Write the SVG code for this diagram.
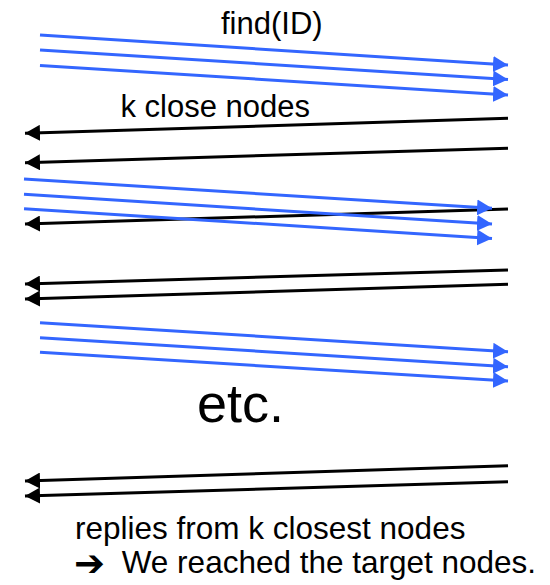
<svg xmlns="http://www.w3.org/2000/svg" width="550" height="585" viewBox="0 0 550 585">
<style>
  .t { font-family: "Liberation Sans", Arial, sans-serif; fill: #000; }
  .q { stroke: #3366ff; stroke-width: 3; fill: none; marker-end: url(#ab); }
  .r { stroke: #000; stroke-width: 3; fill: none; marker-end: url(#ak); }
</style>
<defs>
  <marker id="ab" markerUnits="userSpaceOnUse" viewBox="0 0 15 16" markerWidth="15" markerHeight="16" refX="15" refY="8" orient="auto">
    <path d="M0,0 L15,8 L0,16 Z" fill="#3366ff"/>
  </marker>
  <marker id="ak" markerUnits="userSpaceOnUse" viewBox="0 0 15 16" markerWidth="15" markerHeight="16" refX="15" refY="8" orient="auto">
    <path d="M0,0 L15,8 L0,16 Z" fill="#000"/>
  </marker>
</defs>
<rect width="550" height="585" fill="#fff"/>
<g id="connectors">
  <line class="q" x1="40" y1="35" x2="508" y2="65"/>
  <line class="q" x1="40" y1="50" x2="508" y2="79.5"/>
  <line class="q" x1="40" y1="65.5" x2="508" y2="95"/>
  <line class="r" x1="508" y1="118.3" x2="25" y2="133.3"/>
  <line class="r" x1="508" y1="148.3" x2="25" y2="162.7"/>
  <line class="r" x1="508" y1="209" x2="25" y2="224"/>
  <line class="q" x1="24" y1="179" x2="492" y2="208.3"/>
  <line class="q" x1="24" y1="194.3" x2="492" y2="224"/>
  <line class="q" x1="24" y1="208.7" x2="492" y2="238.5"/>
  <line class="r" x1="508" y1="270" x2="25" y2="284"/>
  <line class="r" x1="508" y1="284.3" x2="25" y2="299"/>
  <line class="q" x1="40" y1="322.7" x2="508" y2="351.7"/>
  <line class="q" x1="40" y1="337.7" x2="508" y2="366.7"/>
  <line class="q" x1="40" y1="352.3" x2="508" y2="381"/>
  <line class="r" x1="508" y1="465.7" x2="25" y2="481"/>
  <line class="r" x1="508" y1="481.7" x2="25" y2="496"/>
</g>
<g id="label-find">
  <text class="t" x="221" y="33.5" font-size="31">find(ID)</text>
</g>
<g id="label-kclose">
  <text class="t" x="120.5" y="117" font-size="31">k close nodes</text>
</g>
<g id="label-etc">
  <text class="t" x="197" y="421.5" font-size="54">etc.</text>
</g>
<g id="label-replies">
  <text class="t" x="75" y="539.3" font-size="31.5">replies from k closest nodes</text>
  <text x="74" y="576" font-size="37" font-family="'DejaVu Sans', sans-serif" fill="#000">➔</text>
  <text class="t" x="121.7" y="573.3" font-size="31.5">We reached the target nodes.</text>
</g>
</svg>
